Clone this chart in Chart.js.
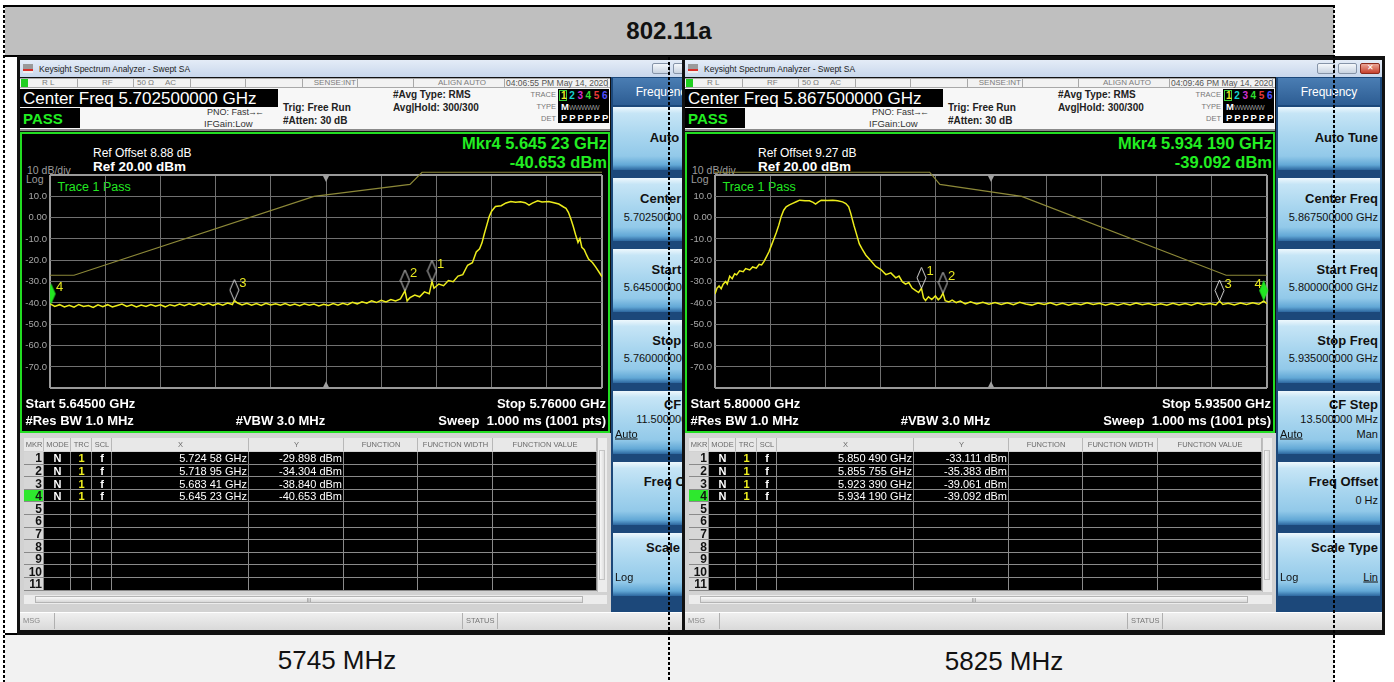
<!DOCTYPE html>
<html>
<head>
<meta charset="utf-8">
<title>802.11a</title>
<script src="https://cdn.jsdelivr.net/npm/chart.js@4.4.1/dist/chart.umd.min.js"></script>
<style>
  html, body { margin: 0; padding: 0; }
  body { width: 1394px; height: 682px; position: relative; overflow: hidden; background: #fff;
         font-family: "Liberation Sans", Arial, sans-serif; }
  .a { position: absolute; white-space: nowrap; }
  .t { line-height: 1; }
  .win { position: absolute; top: 56px; width: 703px; height: 579px; background: #111; overflow: hidden; }
  .dash { position: absolute; width: 2px;
          background: repeating-linear-gradient(to bottom, #000 0 3px, transparent 3px 5px); }
  .btn { background: linear-gradient(to bottom, #eef8fd 0%, #c6e5f6 10%, #a9d6ef 45%, #92c9e9 78%, #62a8d6 92%, #2d679f 100%); }
</style>
</head>
<body>

<div class="a" style="left:5px;top:5px;width:1329px;height:50px;background:#bfbfbf;border-top:2px solid #000;"></div>
<div class="a t" style="left:669px;top:31px;transform:translate(-50%,-50%);font-size:24px;font-weight:bold;color:#111;">802.11a</div>
<div class="a" style="left:5px;top:55px;width:1329px;height:2px;background:#000;"></div>
<div class="a" style="left:5px;top:633px;width:1329px;height:2px;background:#000;"></div>
<div class="a" style="left:5px;top:635px;width:1329px;height:47px;background:#f2f2f2;"></div>
<div class="a t" style="left:337px;top:660px;transform:translate(-50%,-50%);font-size:26px;color:#111;">5745 MHz</div>
<div class="a t" style="left:1004px;top:661px;transform:translate(-50%,-50%);font-size:26px;color:#111;">5825 MHz</div>

<div id="screenA" class="win" style="left:17px;"></div>
<div id="screenB" class="win" style="left:682px;"></div>

<div class="dash" style="left:3px;top:5px;height:677px;"></div>
<div class="dash" style="left:668px;top:57px;height:625px;"></div>
<div class="dash" style="left:1333px;top:5px;height:677px;"></div>

<script>
// ---- data (MHz, dBm) ----
const trace5745 = [
  [5645.0,-40.4],[5645.23,-40.65],[5646,-41.6],[5647,-40.8],[5648,-41.9],[5649,-41.1],[5650,-42.0],
  [5651,-40.7],[5652,-41.6],[5653,-41.2],[5654,-42.1],[5655,-40.9],[5656,-41.7],[5657,-40.8],
  [5658,-41.9],[5659,-41.2],[5660,-40.5],[5661,-41.6],[5662,-40.9],[5663,-41.9],[5664,-41.0],
  [5665,-41.6],[5666,-40.7],[5667,-41.5],[5668,-40.9],[5669,-41.8],[5670,-40.8],[5671,-41.4],
  [5672,-40.5],[5673,-41.3],[5674,-40.4],[5675,-41.2],[5676,-40.2],[5677,-41.0],[5678,-40.1],
  [5679,-41.1],[5680,-40.3],[5681,-41.0],[5682,-40.0],[5683,-40.7],[5683.41,-38.84],[5684,-39.9],
  [5685,-40.9],[5686,-40.1],[5687,-41.0],[5688,-40.3],[5689,-41.2],[5690,-40.2],[5691,-40.9],
  [5692,-40.4],[5693,-41.1],[5694,-40.3],[5695,-41.2],[5696,-40.5],[5697,-41.3],[5698,-40.4],
  [5699,-41.1],[5700,-40.5],[5701,-41.4],[5702,-40.6],[5703,-41.2],[5704,-40.3],[5705,-41.0],
  [5706,-40.1],[5707,-40.8],[5708,-39.7],[5709,-40.4],[5710,-39.4],[5711,-40.1],[5712,-39.0],
  [5713,-39.8],[5714,-38.7],[5715,-39.5],[5716,-38.4],[5717,-39.1],[5718,-38.1],[5718.95,-34.30],
  [5719.4,-39.0],[5720,-37.5],[5721,-36.3],[5722,-37.1],[5723,-34.8],[5724,-35.7],[5724.58,-29.90],
  [5725,-33.1],[5726,-31.1],[5727,-31.9],[5728,-29.5],[5729,-30.0],[5730,-27.4],[5731,-26.7],
  [5732,-22.3],[5733,-21.1],[5733.8,-16.1],[5734.5,-14.6],[5735,-11.8],[5735.5,-7.4],[5736,-3.5],
  [5736.5,0.5],[5737,3.0],[5737.8,5.2],[5739,5.6],[5740,6.9],[5741,7.6],[5742,7.2],[5743,7.5],
  [5744,7.0],[5744.8,5.9],[5745.5,6.8],[5746.6,7.9],[5747.5,7.3],[5748.9,7.6],[5750,7.0],
  [5751,6.4],[5752,5.0],[5752.5,4.4],[5753,2.5],[5753.5,-0.5],[5754,-4.0],[5754.5,-8.0],
  [5755,-11.6],[5755.4,-9.8],[5755.8,-13.9],[5756.3,-15.0],[5756.8,-17.6],[5757.2,-19.4],
  [5758,-21.0],[5758.7,-23.2],[5759.4,-25.6],[5760,-27.7]
];
const limit5745 = [[5645,-27],[5650,-27],[5700,10],[5720,15.6],[5722.5,21.3],[5760,21.3]];
const mkrFreq5745 = [5724.58, 5718.95, 5683.41, 5645.23];
const mkrLevel5745 = [-29.898, -34.304, -38.840, -40.653];

const trace5825 = [
  [5800,-35.8],[5800.5,-33.0],[5801,-32.0],[5801.5,-33.3],[5802,-31.2],[5802.6,-29.9],[5803,-31.1],
  [5803.6,-27.4],[5804.2,-28.6],[5804.8,-26.3],[5805.3,-26.8],[5806,-24.9],[5806.9,-25.3],
  [5807.5,-23.9],[5808.5,-24.5],[5809.2,-23.1],[5810.1,-23.7],[5810.8,-21.9],[5811.4,-22.2],
  [5812,-20.5],[5812.6,-18.3],[5813.2,-16.0],[5813.8,-13.0],[5814.4,-10.0],[5815,-7.0],
  [5815.6,-3.5],[5816.2,0.6],[5816.8,3.5],[5817.4,5.1],[5818.2,6.0],[5819,6.7],[5820,7.6],
  [5820.7,8.2],[5822,7.9],[5823.1,7.9],[5824,7.2],[5824.6,6.4],[5825.3,7.4],[5826,8.2],
  [5827.5,8.0],[5828.8,8.2],[5830,7.9],[5831.2,7.4],[5832,6.6],[5832.7,5.1],[5833.2,2.0],
  [5833.6,-0.9],[5834,-3.8],[5834.5,-7.0],[5835.3,-12.3],[5836,-14.8],[5836.9,-17.6],
  [5838,-20.0],[5839.3,-22.9],[5840.5,-24.2],[5841.8,-26.7],[5843,-25.9],[5844.2,-28.2],
  [5845,-27.4],[5845.8,-30.0],[5846.6,-31.2],[5847.4,-30.4],[5848.2,-33.0],[5849.1,-34.2],
  [5849.8,-35.1],[5850.49,-33.11],[5851,-37.6],[5851.5,-38.8],[5852.2,-37.1],[5853,-38.4],
  [5853.9,-36.7],[5854.6,-38.5],[5855.2,-37.4],[5855.76,-35.38],[5856.3,-38.9],[5857.2,-39.5],
  [5858,-38.7],[5859,-39.8],[5860,-39.1],[5861.2,-40.4],[5862.5,-39.5],[5864,-40.5],[5865.5,-39.7],
  [5867,-40.6],[5868.5,-39.8],[5870,-40.7],[5871.5,-39.9],[5873,-40.8],[5874.5,-39.7],[5876,-40.5],
  [5877.5,-41.0],[5879,-40.0],[5880.5,-40.7],[5882,-39.9],[5883.5,-40.9],[5885,-40.1],[5886.5,-41.0],
  [5888,-40.2],[5889.5,-40.8],[5891,-39.9],[5892.5,-40.7],[5894,-40.1],[5895.5,-41.0],[5897,-40.3],
  [5898.5,-41.1],[5900,-40.2],[5901.5,-40.9],[5903,-40.0],[5904.5,-40.8],[5906,-40.3],[5907.5,-41.1],
  [5909,-40.4],[5910.5,-41.0],[5912,-40.1],[5913.5,-40.9],[5915,-40.3],[5916.5,-41.0],[5918,-40.0],
  [5919.5,-40.8],[5921,-40.2],[5922.5,-40.9],[5923.39,-39.06],[5924.2,-40.7],[5925.5,-40.1],
  [5927,-40.9],[5928.5,-40.0],[5930,-40.7],[5931.5,-39.9],[5933,-40.6],[5934.19,-39.09],[5935,-40.3]
];
const limit5825 = [[5800,21.3],[5852.5,21.3],[5855,15.6],[5875,10],[5925,-27],[5935,-27]];
const mkrFreq5825 = [5850.49, 5855.755, 5923.39, 5934.19];
const mkrLevel5825 = [-33.111, -35.383, -39.061, -39.092];

const mkrLabels = ['1', '2', '3', '4'];
const levelTicks = [-80, -70, -60, -50, -40, -30, -20, -10, 0, 10, 20];
const levelTickLabels = ['', '-70.0', '-60.0', '-50.0', '-40.0', '-30.0', '-20.0', '-10.0', '0.00', '10.0', ''];
const activeMarker = 3;

const screens = [
  {
    el: 'screenA', canvas: 'chartA', fStart: 5645, fStop: 5760, fCenter: 5702.5, dec: 5,
    trace: trace5745, limit: limit5745, mkrFreq: mkrFreq5745, mkrLevel: mkrLevel5745,
    time: '04:06:55 PM May 14, 2020', center: 'Center Freq 5.702500000 GHz', refOffset: 'Ref Offset 8.88 dB',
    start: 'Start 5.64500 GHz', stop: 'Stop 5.76000 GHz',
    menu: ['5.702500000 GHz', '5.645000000 GHz', '5.760000000 GHz', '11.500000 MHz']
  },
  {
    el: 'screenB', canvas: 'chartB', fStart: 5800, fStop: 5935, fCenter: 5867.5, dec: 6,
    trace: trace5825, limit: limit5825, mkrFreq: mkrFreq5825, mkrLevel: mkrLevel5825,
    time: '04:09:46 PM May 14, 2020', center: 'Center Freq 5.867500000 GHz', refOffset: 'Ref Offset 9.27 dB',
    start: 'Start 5.80000 GHz', stop: 'Stop 5.93500 GHz',
    menu: ['5.867500000 GHz', '5.800000000 GHz', '5.935000000 GHz', '13.500000 MHz']
  }
];

// ---- screen layout helpers ----
const W = 703;
const tableCols = [7, 27, 54, 75, 95, 232, 327, 401, 476, 580];
const tableHead = ['MKR', 'MODE', 'TRC', 'SCL', 'X', 'Y', 'FUNCTION', 'FUNCTION WIDTH', 'FUNCTION VALUE'];
const statusCuts = [60, 116, 173, 228, 285, 340, 396, 487, 590];
const buttonTops = [51, 122, 193, 264, 335, 406, 477];
const traceColors = ['#e8e820', '#18d0d0', '#d030d0', '#30e030', '#e83838', '#5050ff'];

function box(x, y, w, h, css, cls) {
  return `<div class="a ${cls || ''}" style="left:${x}px;top:${y}px;width:${w}px;height:${h}px;${css || ''}"></div>`;
}
function txt(x, cy, s, css, align) {
  let pos = `left:${x}px;transform:translateY(-50%)`;
  if (align === 'r') pos = `right:${W - x}px;transform:translateY(-50%)`;
  if (align === 'c') pos = `left:${x}px;transform:translate(-50%,-50%)`;
  return `<div class="a t" style="top:${cy}px;${pos};${css || ''}">${s}</div>`;
}
function fmtGHz(mhz, dec) {
  const s = (mhz / 1000).toFixed(dec);
  return s.slice(0, 5) + ' ' + s.slice(5) + ' GHz';
}

function screenHtml(s) {
  let h = '';
  const small = 'font-size:8px;color:#7c7c7c';
  const info = 'font-size:10px;font-weight:bold;color:#222';
  const winBtn = 'background:linear-gradient(#f5f8fb,#c8d3e1);border:1px solid #8694a8;border-radius:2px;box-sizing:border-box';

  // title bar
  h += box(3, 4, W - 6, 17, 'background:linear-gradient(#e4ecf7,#c8d7ec)');
  h += box(6, 8, 10, 9, 'background:linear-gradient(#9a9a9a 0 55%,#d8302a 55% 80%,#eee 80%)');
  h += txt(22, 12.5, 'Keysight Spectrum Analyzer - Swept SA', 'font-size:8.5px;color:#222');
  h += box(635, 7, 18, 11, winBtn);
  h += box(656, 7, 19, 11, winBtn);
  h += box(678, 7, 20, 11, 'background:linear-gradient(#eca595,#c6402d);border:1px solid #8a2a1d;border-radius:2px;box-sizing:border-box');
  h += txt(688, 12, '✕', 'font-size:8px;color:#fff', 'c');

  // status row
  h += box(3, 22, 590, 10, 'background:#f2f2f2;border-top:1px solid #a8a8a8;border-bottom:1px solid #a8a8a8;box-sizing:border-box');
  statusCuts.forEach(x => { h += box(x, 22, 1, 10, 'background:#a8a8a8'); });
  h += box(4, 23, 7, 8, 'background:#1fcf1f');
  h += txt(25, 27, 'R L', small);
  h += txt(85, 27, 'RF', small);
  h += txt(120, 27, '50 Ω', small);
  h += txt(148, 27, 'AC', small);
  h += txt(339, 27, 'SENSE:INT', small, 'r');
  h += txt(421, 27, 'ALIGN AUTO', small);
  h += txt(489, 27, s.time, 'font-size:8.5px;color:#555');

  // header area
  h += box(3, 32, 590, 43, 'background:#f7f7f7;border-bottom:2px solid #8a8a8a;box-sizing:border-box');
  h += box(3, 33, 258, 18, 'background:#000');
  h += txt(6, 42, s.center, 'font-size:17px;color:#fff');
  h += box(3, 52, 60, 20, 'background:#000');
  h += txt(6, 62, 'PASS', 'font-size:15px;font-weight:bold;color:#22ee22');
  h += txt(190, 56, 'PNO: Fast', 'font-size:9px;color:#333');
  h += txt(231, 56, '→←', 'font-size:9px;color:#333;letter-spacing:-2px');
  h += txt(187, 67.5, 'IFGain:Low', 'font-size:9.5px;color:#333');
  h += txt(266, 52.3, 'Trig: Free Run', info);
  h += txt(266, 65.3, '#Atten: 30 dB', info);
  h += txt(376, 39.3, '#Avg Type: RMS', info);
  h += txt(376, 52.3, 'Avg|Hold: 300/300', info);
  h += txt(539, 39, 'TRACE', 'font-size:7.5px;color:#777', 'r');
  h += txt(539, 51, 'TYPE', 'font-size:7.5px;color:#777', 'r');
  h += txt(539, 62.5, 'DET', 'font-size:7.5px;color:#777', 'r');
  h += box(541, 33, 51, 34, 'background:#000');
  h += box(542, 34, 8, 11, 'border:1px solid #3ad03a;box-sizing:border-box');
  traceColors.forEach((c, i) => {
    h += txt(544 + i * 8.2, 39.5, String(i + 1), `font-size:10px;font-weight:bold;color:${c}`);
    h += txt(544 + i * 8.2, 62, 'P', 'font-size:9.5px;font-weight:bold;color:#fff');
  });
  h += txt(544, 51, 'M', 'font-size:9.5px;font-weight:bold;color:#fff');
  h += txt(552, 51, 'WWWWW', 'font-size:7px;color:#999;letter-spacing:-0.6px');

  // plot region
  h += box(3, 76, 590, 301, 'background:#000;border:2px solid #22dd22;box-sizing:border-box');
  h += txt(76, 97, s.refOffset, 'font-size:12px;color:#fff');
  h += txt(10, 114, '10 dB/div', 'font-size:10.5px;color:#9c9c9c');
  h += txt(76, 110.7, 'Ref 20.00 dBm', 'font-size:13.5px;font-weight:bold;color:#fff');
  h += txt(9, 122.5, 'Log', 'font-size:10.5px;color:#9c9c9c');
  const mk = activeMarker;
  h += txt(590, 87.3, `Mkr${mk + 1} ` + fmtGHz(s.mkrFreq[mk], s.dec), 'font-size:16.5px;font-weight:bold;color:#22ee22', 'r');
  h += txt(590, 106.3, s.mkrLevel[mk].toFixed(3) + ' dBm', 'font-size:16.5px;font-weight:bold;color:#22ee22', 'r');
  h += txt(40.5, 131.3, 'Trace 1 Pass', 'font-size:12.5px;color:#22e822');
  h += `<canvas id="${s.canvas}" width="586" height="232" class="a" style="left:5px;top:109px;"></canvas>`;
  const foot = 'font-size:13px;font-weight:bold;color:#fff';
  h += txt(8.5, 347.3, s.start, foot);
  h += txt(589, 347.3, s.stop, foot, 'r');
  h += txt(8.5, 364, '#Res BW 1.0 MHz', foot);
  h += txt(218.7, 364, '#VBW 3.0 MHz', foot);
  h += txt(589, 364, 'Sweep&nbsp;&nbsp;1.000 ms (1001 pts)', foot, 'r');

  // marker table
  h += box(3, 377, 591, 179, 'background:#d2d2d2');
  for (let c = 0; c < tableHead.length; c++) {
    const x = tableCols[c], w = tableCols[c + 1] - x;
    h += box(x, 382, w, 13, 'background:#e8e8e8;border-right:1px solid #b8b8b8;box-sizing:border-box');
    h += txt(x + w / 2, 389, tableHead[c], 'font-size:7.5px;color:#6a6a6a', 'c');
  }
  for (let r = 0; r < 11; r++) {
    const top = 396 + r * 12.6, cy = top + 6.4;
    for (let c = 0; c < tableHead.length; c++) {
      const x = tableCols[c], w = tableCols[c + 1] - x;
      let bg = '#000';
      if (c === 0) bg = r === activeMarker ? '#2ee82e' : '#d6d6d6';
      h += box(x, top, w, 12.6, `background:${bg};border-right:1px solid #8a8a8a;border-bottom:1px solid #8a8a8a;box-sizing:border-box`);
    }
    h += txt(25, cy, String(r + 1), 'font-size:12px;font-weight:bold;color:#111', 'r');
    if (r < s.mkrFreq.length) {
      h += txt(40.5, cy, 'N', 'font-size:11px;font-weight:bold;color:#fff', 'c');
      h += txt(64.5, cy, '1', 'font-size:11px;font-weight:bold;color:#f0f020', 'c');
      h += txt(85, cy, 'f', 'font-size:11px;font-weight:bold;color:#fff', 'c');
      h += txt(230, cy, fmtGHz(s.mkrFreq[r], s.dec), 'font-size:11px;color:#fff', 'r');
      h += txt(325, cy, s.mkrLevel[r].toFixed(3) + ' dBm', 'font-size:11px;color:#fff', 'r');
    }
  }
  h += box(580, 382, 10, 154, 'background:#ececec;border-left:1px solid #bdbdbd;box-sizing:border-box');
  h += box(582, 394, 6, 130, 'background:linear-gradient(to right,#f8f8f8,#dedede);border:1px solid #c4c4c4;box-sizing:border-box');
  h += box(7, 539, 583, 9, 'background:#ececec');
  h += box(18, 540, 548, 7, 'background:linear-gradient(#fafafa,#d8d8d8);border:1px solid #b4b4b4;box-sizing:border-box');
  h += txt(292, 543.5, 'III', 'font-size:5px;color:#777', 'c');

  // message bar
  h += box(3, 556, 697, 18, 'background:linear-gradient(#efefef,#d9d9d9);border-top:1px solid #fff;box-sizing:border-box');
  [37, 445, 480].forEach(x => { h += box(x, 557, 1, 16, 'background:#b0b0b0'); });
  h += txt(6, 565, 'MSG', 'font-size:7.5px;color:#888');
  h += txt(449, 565, 'STATUS', 'font-size:7.5px;color:#777');

  // softkey menu
  h += box(594, 21, 106, 535, 'background:#1c487a');
  h += box(596, 22, 102, 27, 'background:linear-gradient(#4a7db3,#2d5d93)');
  h += txt(647, 35.5, 'Frequency', 'font-size:12px;color:#fff', 'c');
  const keyT = 'font-size:13px;font-weight:bold;color:#111';
  const keyV = 'font-size:11px;color:#111';
  buttonTops.forEach(top => { h += box(596, top, 102, 63, '', 'btn'); });
  h += txt(696, buttonTops[0] + 30, 'Auto Tune', keyT, 'r');
  h += txt(696, buttonTops[1] + 20, 'Center Freq', keyT, 'r');
  h += txt(696, buttonTops[1] + 39, s.menu[0], keyV, 'r');
  h += txt(696, buttonTops[2] + 20, 'Start Freq', keyT, 'r');
  h += txt(696, buttonTops[2] + 38, s.menu[1], keyV, 'r');
  h += txt(696, buttonTops[3] + 20, 'Stop Freq', keyT, 'r');
  h += txt(696, buttonTops[3] + 38, s.menu[2], keyV, 'r');
  h += txt(696, buttonTops[4] + 13, 'CF Step', keyT, 'r');
  h += txt(696, buttonTops[4] + 28, s.menu[3], keyV, 'r');
  h += txt(598, buttonTops[4] + 43, 'Auto', keyV + ';text-decoration:underline');
  h += txt(696, buttonTops[4] + 43, 'Man', keyV, 'r');
  h += txt(696, buttonTops[5] + 19, 'Freq Offset', keyT, 'r');
  h += txt(696, buttonTops[5] + 38, '0 Hz', keyV, 'r');
  h += txt(696, buttonTops[6] + 14, 'Scale Type', keyT, 'r');
  h += txt(598, buttonTops[6] + 44, 'Log', keyV);
  h += txt(696, buttonTops[6] + 44, 'Lin', keyV + ';text-decoration:underline', 'r');

  // bottom frame
  h += box(0, 575, W, 4, 'background:#111');
  return h;
}

// ---- chart ----
Chart.defaults.font.family = '"Liberation Sans", Arial, sans-serif';

function diamond(fill) {
  const c = document.createElement('canvas');
  c.width = 11; c.height = 44;
  const g = c.getContext('2d');
  g.beginPath();
  g.moveTo(5.5, 1); g.lineTo(10, 11.5); g.lineTo(5.5, 22); g.lineTo(1, 11.5); g.closePath();
  if (fill) { g.fillStyle = fill; g.fill(); }
  else { g.strokeStyle = '#d4d4d4'; g.lineWidth = 1; g.stroke(); }
  return c;
}

const analyzerOverlay = {
  id: 'analyzerOverlay',
  afterDatasetsDraw(chart, args, opts) {
    const { ctx, chartArea: a, scales: { x, y } } = chart;
    const cx = x.getPixelForValue(opts.center);
    ctx.save();
    ctx.fillStyle = '#a0a0a0';
    ctx.beginPath();
    ctx.moveTo(cx - 3.5, a.top); ctx.lineTo(cx + 3.5, a.top); ctx.lineTo(cx, a.top + 7); ctx.fill();
    ctx.beginPath();
    ctx.moveTo(cx - 3.5, a.bottom); ctx.lineTo(cx + 3.5, a.bottom); ctx.lineTo(cx, a.bottom - 7); ctx.fill();
    ctx.font = '13px "Liberation Sans", Arial, sans-serif';
    ctx.fillStyle = '#e8e820';
    ctx.textBaseline = 'middle';
    opts.freqs.forEach((f, i) => {
      const px = x.getPixelForValue(f), py = y.getPixelForValue(opts.levels[i]);
      if (px + 16 > a.right) { ctx.textAlign = 'right'; ctx.fillText(opts.labels[i], px - 2, py - 17); }
      else { ctx.textAlign = 'left'; ctx.fillText(opts.labels[i], px + 5, py - 17); }
    });
    ctx.restore();
  }
};

function makeChart(s) {
  const xy = arr => arr.map(p => ({ x: p[0], y: p[1] }));
  const mk = s.mkrFreq.map((f, i) => ({ x: f, y: s.mkrLevel[i] }));
  const divs = Array.from({ length: 11 }, (_, i) => ({ value: s.fStart + i * (s.fStop - s.fStart) / 10 }));
  const edge = c => (c.index === 0 || c.index === 10);
  const grid = {
    drawTicks: false,
    color: c => edge(c) ? '#9a9a9a' : '#707070',
    lineWidth: c => edge(c) ? 2 : 1
  };
  return new Chart(document.getElementById(s.canvas), {
    type: 'scatter',
    data: {
      datasets: [
        { data: mk.filter((_, i) => i !== activeMarker), pointStyle: diamond(null), pointRadius: 5, clip: false, order: 0 },
        { data: [mk[activeMarker]], pointStyle: diamond('#22e622'), pointRadius: 5,
          clip: { left: 0, top: false, right: false, bottom: false }, order: 0 },
        { data: xy(s.trace), showLine: true, borderColor: '#ecec1c', borderWidth: 1.5, pointRadius: 0, order: 1 },
        { data: xy(s.limit), showLine: true, borderColor: '#8c8838', borderWidth: 1.2, pointRadius: 0,
          clip: { left: 0, top: 6, right: 0, bottom: 0 }, order: 2 }
      ]
    },
    options: {
      responsive: false,
      animation: false,
      devicePixelRatio: 1,
      events: [],
      layout: { padding: { top: 10, right: 2, bottom: 4, left: 0 } },
      plugins: {
        legend: { display: false },
        tooltip: { enabled: false },
        analyzerOverlay: { center: s.fCenter, freqs: s.mkrFreq, levels: s.mkrLevel, labels: mkrLabels }
      },
      scales: {
        x: {
          type: 'linear', min: s.fStart, max: s.fStop,
          afterBuildTicks: sc => { sc.ticks = divs; },
          afterFit: sc => { sc.height = 0; },
          ticks: { display: false },
          grid: grid,
          border: { display: false }
        },
        y: {
          min: -80, max: 20,
          afterBuildTicks: sc => { sc.ticks = levelTicks.map(v => ({ value: v })); },
          afterFit: sc => { sc.width = 28; },
          ticks: {
            autoSkip: false, padding: 3, color: '#a8a8a8', font: { size: 9.5 },
            callback: v => levelTickLabels[levelTicks.indexOf(v)] || ''
          },
          grid: grid,
          border: { display: false }
        }
      }
    },
    plugins: [analyzerOverlay]
  });
}

screens.forEach(s => {
  document.getElementById(s.el).innerHTML = screenHtml(s);
  makeChart(s);
});
</script>
</body>
</html>
